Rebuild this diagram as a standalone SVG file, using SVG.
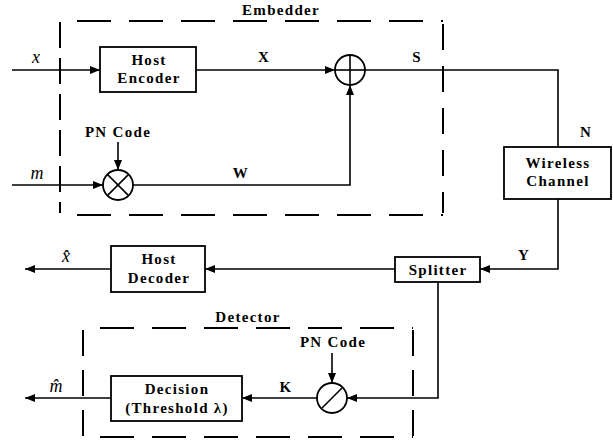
<svg xmlns="http://www.w3.org/2000/svg" width="613" height="441" viewBox="0 0 613 441">
<style>
.ln{fill:none;stroke:#000;stroke-width:1.6}
.bx{fill:#fff;stroke:#000;stroke-width:1.8}
.ds{fill:none;stroke:#000;stroke-width:2;stroke-dasharray:34 18}
.t{font-family:'Liberation Serif','DejaVu Serif',serif;font-weight:bold;font-size:15px;letter-spacing:1.3px;text-anchor:middle;fill:#000}
.m{font-family:'Liberation Serif','DejaVu Serif',serif;font-style:italic;font-size:18px;text-anchor:middle;fill:#000}
</style>
<defs>
<marker id="ah" viewBox="0 0 10 8" refX="10" refY="4" markerWidth="10" markerHeight="8" markerUnits="userSpaceOnUse" orient="auto">
<path d="M0,0 L10,4 L0,8 Z" fill="#000"/>
</marker>
</defs>
<g id="embedder-frame">
<line class="ds" x1="77" y1="21" x2="443" y2="21"/>
<line class="ds" x1="77" y1="215" x2="443" y2="215"/>
<line class="ds" x1="60" y1="22" x2="60" y2="213" style="stroke-dasharray:26 10"/>
<line class="ds" x1="443" y1="24" x2="443" y2="213" style="stroke-dasharray:26 16"/>
<text class="t" x="281" y="15">Embedder</text>
</g>
<g id="detector-frame">
<line class="ds" x1="100" y1="328" x2="413" y2="328"/>
<line class="ds" x1="100" y1="437" x2="413" y2="437"/>
<line class="ds" x1="83" y1="330" x2="83" y2="436" style="stroke-dasharray:26 14"/>
<line class="ds" x1="413" y1="330" x2="413" y2="436" style="stroke-dasharray:26 14"/>
<text class="t" x="248" y="322">Detector</text>
</g>
<g id="connectors">
<line class="ln" x1="12" y1="70" x2="100" y2="70" marker-end="url(#ah)"/>
<line class="ln" x1="196" y1="70" x2="335" y2="70" marker-end="url(#ah)"/>
<polyline class="ln" points="365,70 558,70 558,147"/>
<line class="ln" x1="12" y1="185" x2="103" y2="185" marker-end="url(#ah)"/>
<line class="ln" x1="118" y1="142" x2="118" y2="170" marker-end="url(#ah)"/>
<polyline class="ln" points="133,185 350,185 350,85" marker-end="url(#ah)"/>
<polyline class="ln" points="558,199 558,269 480,269" marker-end="url(#ah)"/>
<line class="ln" x1="395" y1="269" x2="205" y2="269" marker-end="url(#ah)"/>
<line class="ln" x1="111" y1="269" x2="25" y2="269" marker-end="url(#ah)"/>
<polyline class="ln" points="438,282 438,398 347,398" marker-end="url(#ah)"/>
<line class="ln" x1="332" y1="353" x2="332" y2="383" marker-end="url(#ah)"/>
<line class="ln" x1="317" y1="398" x2="242" y2="398" marker-end="url(#ah)"/>
<line class="ln" x1="111" y1="398" x2="25" y2="398" marker-end="url(#ah)"/>
<text class="t" x="264" y="62">X</text>
<text class="t" x="417" y="62">S</text>
<text class="t" x="241" y="178">W</text>
<text class="t" x="586" y="137">N</text>
<text class="t" x="524" y="260">Y</text>
<text class="t" x="286" y="392">K</text>
<text class="m" x="36" y="63">x</text>
<text class="m" x="37" y="179">m</text>
<text class="m" x="66" y="262">x̂</text>
<text class="m" x="56" y="392">m̂</text>
</g>
<g id="host-encoder">
<rect class="bx" x="100" y="47" width="96" height="45"/>
<text class="t" x="149" y="65">Host</text>
<text class="t" x="149" y="83">Encoder</text>
</g>
<g id="adder">
<circle class="bx" cx="350" cy="70" r="15"/>
<line class="ln" x1="335" y1="70" x2="365" y2="70"/>
<line class="ln" x1="350" y1="55" x2="350" y2="85"/>
</g>
<g id="multiplier">
<circle class="bx" cx="118" cy="185" r="15"/>
<line class="ln" x1="107.4" y1="174.4" x2="128.6" y2="195.6"/>
<line class="ln" x1="128.6" y1="174.4" x2="107.4" y2="195.6"/>
<text class="t" x="118" y="137">PN Code</text>
</g>
<g id="wireless-channel">
<rect class="bx" x="504" y="147" width="107" height="52"/>
<text class="t" x="558" y="168">Wireless</text>
<text class="t" x="558" y="186">Channel</text>
</g>
<g id="splitter">
<rect class="bx" x="395" y="257" width="85" height="25"/>
<text class="t" x="438" y="275">Splitter</text>
</g>
<g id="host-decoder">
<rect class="bx" x="111" y="246" width="94" height="46"/>
<text class="t" x="159" y="264">Host</text>
<text class="t" x="159" y="283">Decoder</text>
</g>
<g id="divider">
<circle class="bx" cx="332" cy="398" r="15"/>
<line class="ln" x1="322" y1="408" x2="342" y2="388"/>
<text class="t" x="333" y="347">PN Code</text>
</g>
<g id="decision">
<rect class="bx" x="111" y="376" width="131" height="45"/>
<text class="t" x="177" y="394">Decision</text>
<text class="t" x="177" y="413">(Threshold λ)</text>
</g>
</svg>
